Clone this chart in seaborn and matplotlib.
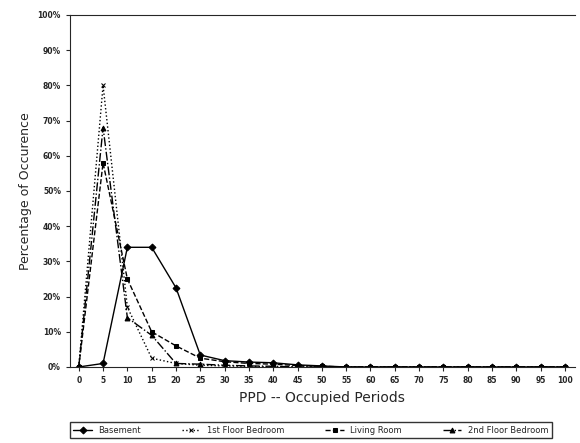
import numpy as np
import pandas as pd
import matplotlib
matplotlib.use('Agg')
import matplotlib.pyplot as plt
import seaborn as sns
from matplotlib.ticker import PercentFormatter

ppd = list(range(0, 101, 5))
basement = [0, 1, 34, 34, 22.5, 3.4, 1.8, 1.4, 1.2, 0.6, 0.3, 0, 0, 0, 0, 0, 0, 0, 0, 0, 0]
bed_1st = [0, 80, 17, 2.5, 1, 0.5, 0.3, 0.2, 0, 0, 0, 0, 0, 0, 0, 0, 0, 0, 0, 0, 0]
living = [0, 58, 25, 10, 6, 2.5, 1.5, 1, 0.8, 0.4, 0.2, 0, 0, 0, 0, 0, 0, 0, 0, 0, 0]
bed_2nd = [0, 68, 14, 9, 1, 0.8, 0.5, 0.3, 0.2, 0, 0, 0, 0, 0, 0, 0, 0, 0, 0, 0, 0]

names = ['Basement', '1st Floor Bedroom', 'Living Room', '2nd Floor Bedroom']
series = [basement, bed_1st, living, bed_2nd]
styles = ['-', ':', '--', '-.']
markers = ['D', 'x', 's', '^']

sns.set_style('ticks')
plt.rcParams['font.family'] = ['DejaVu Sans']

fig = plt.figure(figsize=(5.8, 4.43), dpi=100)
ax = fig.add_axes([0.1207, 0.1716, 0.87, 0.7946])

for name, vals, ls, mk in zip(names, series, styles, markers):
    df = pd.DataFrame({'ppd': ppd, 'pct': vals})
    sns.lineplot(data=df, x='ppd', y='pct', ax=ax, color='black', linestyle=ls,
                 marker=mk, markersize=3.5, linewidth=1.0, label=name,
                 markeredgecolor='black', markerfacecolor='black')

ax.set_xlim(-1.8, 102)
ax.set_ylim(0, 100)
ax.set_xticks(ppd)
ax.set_yticks(range(0, 101, 10))
ax.yaxis.set_major_formatter(PercentFormatter(decimals=0))
ax.tick_params(labelsize=5.5, length=3, width=0.8)
for lab in ax.get_xticklabels() + ax.get_yticklabels():
    lab.set_fontweight('bold')
ax.spines['right'].set_visible(False)
ax.spines['top'].set_visible(True)
ax.set_xlabel('PPD -- Occupied Periods', fontsize=10)
ax.set_ylabel('Percentage of Occurence', fontsize=9)

ax.get_legend().remove()
handles, labels = ax.get_legend_handles_labels()
fig.legend(handles, labels, ncol=4, loc='upper left', mode='expand',
           bbox_to_anchor=(0.1207, -0.05, 0.831, 0.097), fontsize=6,
           frameon=True, fancybox=False, edgecolor='black', borderaxespad=0,
           handlelength=2.2)

fig.savefig('out.png', dpi=100)
